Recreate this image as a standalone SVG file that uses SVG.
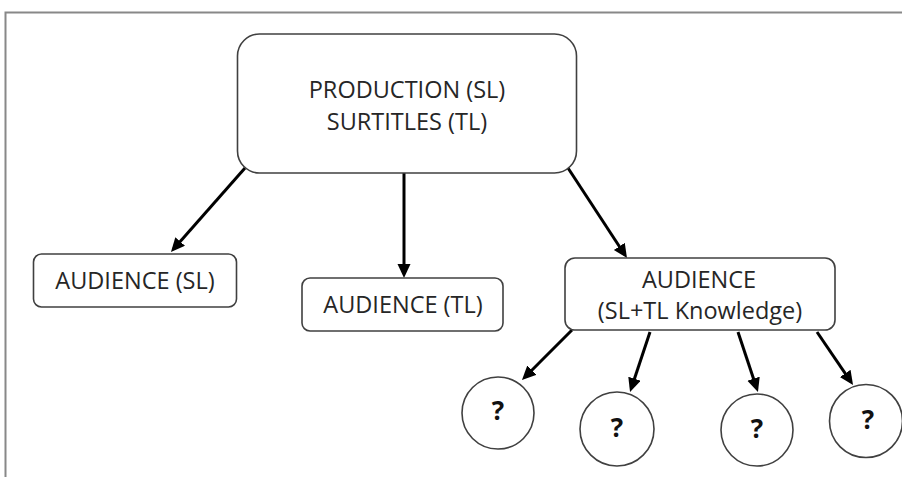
<svg xmlns="http://www.w3.org/2000/svg" width="902" height="477" viewBox="0 0 902 477">
  <style>
    .frame { fill: none; stroke: #888888; stroke-width: 2; }
    .node { fill: #ffffff; stroke: #404040; stroke-width: 1.6; }
    .lbl { font-family: "Open Sans", "Liberation Sans", sans-serif; font-size: 23.5px; fill: #262626; text-anchor: middle; }
    .q { font-family: "Open Sans", "Liberation Sans", sans-serif; font-size: 26px; font-weight: bold; fill: #111111; text-anchor: middle; }
    .conn { stroke: #000000; stroke-width: 3; fill: none; marker-end: url(#arrow); }
  </style>
  <defs>
    <marker id="arrow" markerUnits="userSpaceOnUse" markerWidth="16" markerHeight="14" refX="10" refY="6.5" orient="auto">
      <path d="M0,0 L14,6.5 L0,13 z" fill="#000000"/>
    </marker>
  </defs>
  <rect width="902" height="477" fill="#ffffff"/>
  <path class="frame" d="M5.5,477 L5.5,12.5 L902,12.5"/>

  <g id="connectors">
    <line class="conn" x1="245" y1="168" x2="173.6" y2="249"/>
    <line class="conn" x1="404" y1="173" x2="404" y2="274"/>
    <line class="conn" x1="568" y1="168" x2="624.8" y2="254.7"/>
    <line class="conn" x1="572" y1="330" x2="524.8" y2="377.2"/>
    <line class="conn" x1="650" y1="332" x2="631.3" y2="388.2"/>
    <line class="conn" x1="738" y1="332" x2="756.7" y2="388.2"/>
    <line class="conn" x1="817" y1="332" x2="850.8" y2="381.7"/>
  </g>

  <g id="production">
    <rect class="node" x="237.5" y="34" width="339" height="139" rx="22" ry="22"/>
    <text class="lbl" x="407" y="98">PRODUCTION (SL)</text>
    <text class="lbl" x="407" y="130">SURTITLES (TL)</text>
  </g>
  <g id="audience-sl">
    <rect class="node" x="33.5" y="254" width="203" height="53" rx="8" ry="8"/>
    <text class="lbl" x="135" y="289">AUDIENCE (SL)</text>
  </g>
  <g id="audience-tl">
    <rect class="node" x="302" y="278" width="201" height="53" rx="8" ry="8"/>
    <text class="lbl" x="403" y="313">AUDIENCE (TL)</text>
  </g>
  <g id="audience-sltl">
    <rect class="node" x="565" y="258" width="270" height="72" rx="10" ry="10"/>
    <text class="lbl" x="699" y="288">AUDIENCE</text>
    <text class="lbl" x="700" y="319">(SL+TL Knowledge)</text>
  </g>
  <g id="q1">
    <circle class="node" cx="498" cy="413" r="36"/>
    <text class="q" x="498" y="420">?</text>
  </g>
  <g id="q2">
    <circle class="node" cx="617" cy="429" r="37"/>
    <text class="q" x="617" y="437">?</text>
  </g>
  <g id="q3">
    <circle class="node" cx="757" cy="430" r="36"/>
    <text class="q" x="757" y="438">?</text>
  </g>
  <g id="q4">
    <circle class="node" cx="866" cy="421" r="36.5"/>
    <text class="q" x="868" y="429">?</text>
  </g>
</svg>
